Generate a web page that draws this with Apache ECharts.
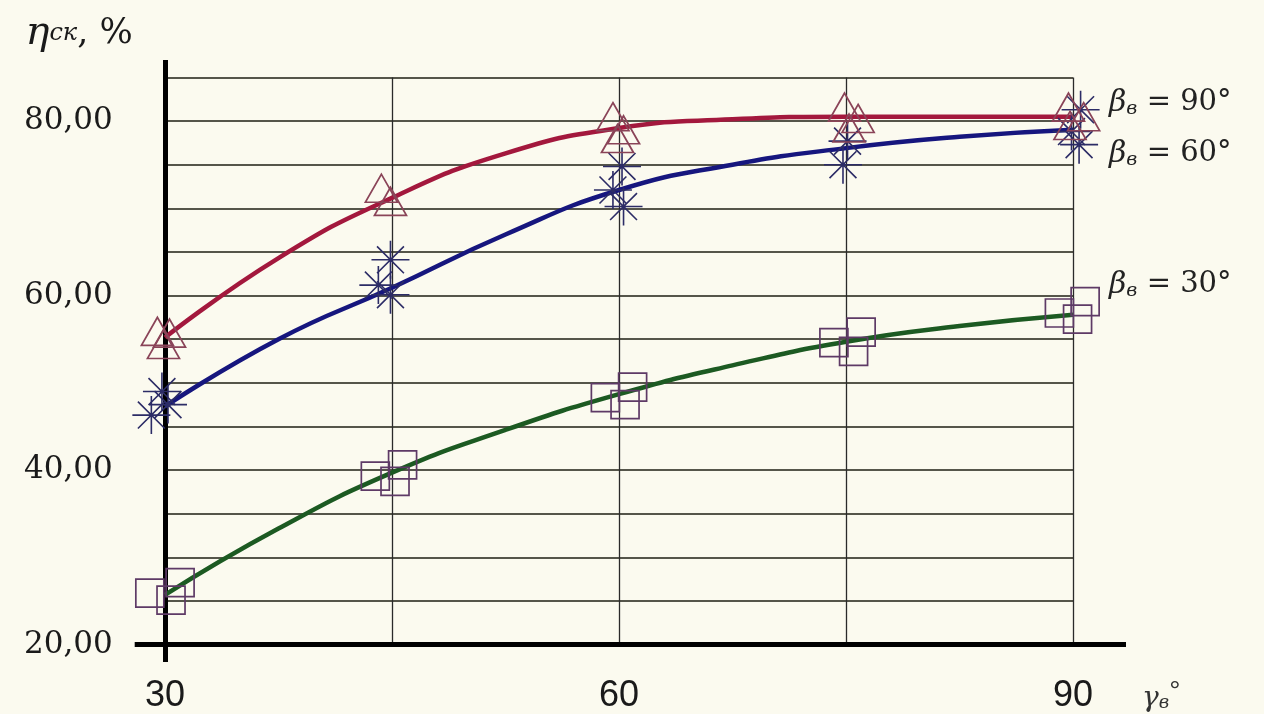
<!DOCTYPE html>
<html>
<head>
<meta charset="utf-8">
<script src="https://cdn.jsdelivr.net/npm/echarts@6/dist/echarts.min.js"></script>
<style>
html,body{margin:0;padding:0;background:#fbfaef;}
#chart{width:1264px;height:714px;}
</style>
</head>
<body>
<div id="chart"></div>
<script>
// ---- data ----
const xTickLabels = [30, 60, 90];
const yTickLabels = [20, 40, 60, 80];
const gridXValues = [45, 60, 75, 90];
const gridYValues = [25, 30, 35, 40, 45, 50, 55, 60, 65, 70, 75, 80, 85];

const betaValues = [90, 60, 30];
const curveX = [30, 37.5, 45, 52.5, 60, 67.5, 75, 82.5, 90];
const curveBeta90 = [55.2, 64.3, 71.2, 76.3, 79.2, 80.2, 80.5, 80.5, 80.5];
const curveBeta60 = [47.3, 55.0, 60.9, 67.0, 72.1, 75.0, 76.9, 78.2, 79.0];
const curveBeta30 = [25.7, 33.3, 39.7, 44.6, 48.7, 52.0, 54.7, 56.5, 57.8];

const pointsBeta90 = [[29.5,55.9],[30.3,55.7],[29.9,54.4],[44.3,72.3],[44.9,70.8],[59.6,80.5],[60.3,79.0],[59.9,78.0],[74.9,81.6],[75.8,80.3],[75.2,79.2],[89.7,81.6],[90.7,80.5],[89.8,79.5]];
const pointsBeta60 = [[29.8,49.0],[29.1,46.3],[30.2,47.5],[44.9,64.1],[44.1,61.2],[44.9,60.1],[60.2,74.8],[59.6,72.1],[60.3,70.2],[75.1,77.7],[74.8,75.0],[90.5,81.3],[89.9,78.8],[90.4,77.3]];
const pointsBeta30 = [[29.0,25.9],[31.0,27.1],[30.4,25.1],[43.9,39.3],[45.7,40.6],[45.2,38.7],[59.1,48.3],[60.9,49.5],[60.4,47.5],[74.2,54.6],[76.0,55.8],[75.5,53.6],[89.1,58.0],[90.8,59.3],[90.3,57.3]];

// ---- layout constants ----
const X_MIN = 28, X_MAX = 93.5, Y_MIN = 18, Y_MAX = 87;
const X0 = 30, X1 = 90, Y0 = 20, Y1 = 85;

const pair = (xs, ys) => xs.map((x, i) => [x, ys[i]]);
const serif = 'DejaVu Serif';
const asterisk = 'path://M0,50L100,50M50,0L50,100M14.6,14.6L85.4,85.4M85.4,14.6L14.6,85.4';

const gridLines = [];
gridYValues.forEach(v => gridLines.push([{coord:[X0, v], lineStyle:{color:'#55554a', width:2}}, {coord:[X1, v]}]));
gridXValues.forEach(v => gridLines.push([{coord:[v, Y0], lineStyle:{color:'#2a2a2a', width:1.3}}, {coord:[v, Y1]}]));
const axisLines = [
  [{coord:[X_MIN, Y0]}, {coord:[X_MAX, Y0]}],
  [{coord:[X0, Y_MIN]}, {coord:[X0, Y_MAX]}]
];

const endLabelRich = {
  b:{fontFamily:serif, fontStyle:'italic', fontSize:30, color:'#222'},
  s:{fontFamily:serif, fontStyle:'italic', fontSize:19, color:'#222', padding:[12,0,0,0]},
  t:{fontFamily:serif, fontSize:29, color:'#222'}
};
function endLabel(beta, offset){
  return {
    show:true, distance:0, offset:offset,
    formatter: '{b|β}{s|в}{t| = ' + beta + '°}',
    rich: endLabelRich
  };
}
function curve(name, ys, color, beta, offset){
  return {
    name:name, type:'line', data:pair(curveX, ys), smooth:true, showSymbol:false, symbol:'none',
    lineStyle:{color:color, width:4.5}, z:5, silent:true,
    endLabel:endLabel(beta, offset), labelLayout:{hideOverlap:false}
  };
}
function points(name, pts, symbol, size, color, bw){
  return {
    name:name, type:'scatter', data:pts, symbol:symbol, symbolSize:size, symbolKeepAspect:false,
    itemStyle:{color:'rgba(0,0,0,0)', borderColor:color, borderWidth:bw, opacity:1},
    z:6, silent:true
  };
}

const chart = echarts.init(document.getElementById('chart'), null, {renderer:'canvas'});
chart.setOption({
  backgroundColor:'#fbfaef',
  animation:false,
  grid:{left:134.7, right:138, top:60, bottom:51.5},
  xAxis:{
    type:'value', min:X_MIN, max:X_MAX, interval:0.5,
    axisLine:{show:false}, axisTick:{show:false}, splitLine:{show:false},
    axisLabel:{
      interval:0, margin:16, fontFamily:'Liberation Sans', fontSize:36, color:'#1a1a1a',
      formatter: v => xTickLabels.includes(v) ? String(v) : ''
    },
    name:'{g|γ}{s|в}{d|°}', nameLocation:'end', nameGap:16,
    nameTextStyle:{
      verticalAlign:'top', padding:[16,0,0,0],
      rich:{
        g:{fontFamily:serif, fontStyle:'italic', fontSize:28, color:'#333'},
        s:{fontFamily:serif, fontStyle:'italic', fontSize:18, color:'#333', padding:[8,0,0,0]},
        d:{fontFamily:'Liberation Sans', fontSize:28, color:'#333', padding:[0,0,14,0]}
      }
    }
  },
  yAxis:{
    type:'value', min:Y_MIN, max:Y_MAX, interval:1,
    axisLine:{show:false}, axisTick:{show:false}, splitLine:{show:false},
    axisLabel:{
      interval:0, margin:22, fontFamily:serif, fontSize:31, color:'#1a1a1a',
      formatter: v => yTickLabels.includes(v) ? v.toFixed(2).replace('.', ',') : ''
    },
    name:'{e|η}{c|ск}{p|, %}', nameLocation:'end', nameGap:6,
    nameTextStyle:{
      align:'right', padding:[0,2,0,0],
      rich:{
        e:{fontFamily:serif, fontStyle:'italic', fontSize:40, color:'#1a1a1a'},
        c:{fontFamily:serif, fontStyle:'italic', fontSize:24, color:'#1a1a1a'},
        p:{fontFamily:serif, fontSize:35, color:'#1a1a1a'}
      }
    }
  },
  series:[
    {
      name:'grid', type:'scatter', data:[], z:1, silent:true,
      markLine:{silent:true, symbol:['none','none'], label:{show:false}, animation:false,
        lineStyle:{type:'solid'}, data:gridLines}
    },
    {
      name:'axes', type:'scatter', data:[], z:2, silent:true,
      markLine:{silent:true, symbol:['none','none'], label:{show:false}, animation:false,
        lineStyle:{type:'solid', color:'#000', width:5}, data:axisLines}
    },
    points('β=30 data', pointsBeta30, 'rect', 28, '#5e3a66', 1.7),
    points('β=60 data', pointsBeta60, asterisk, 38, '#2c2c66', 1.6),
    points('β=90 data', pointsBeta90, 'triangle', [32, 28], '#8a4458', 1.7),
    curve('β=90', curveBeta90, '#a3183d', betaValues[0], [36, -14]),
    curve('β=60', curveBeta60, '#16167e', betaValues[1], [36, 24]),
    curve('β=30', curveBeta30, '#1c5a22', betaValues[2], [36, -30])
  ]
});
</script>
</body>
</html>
